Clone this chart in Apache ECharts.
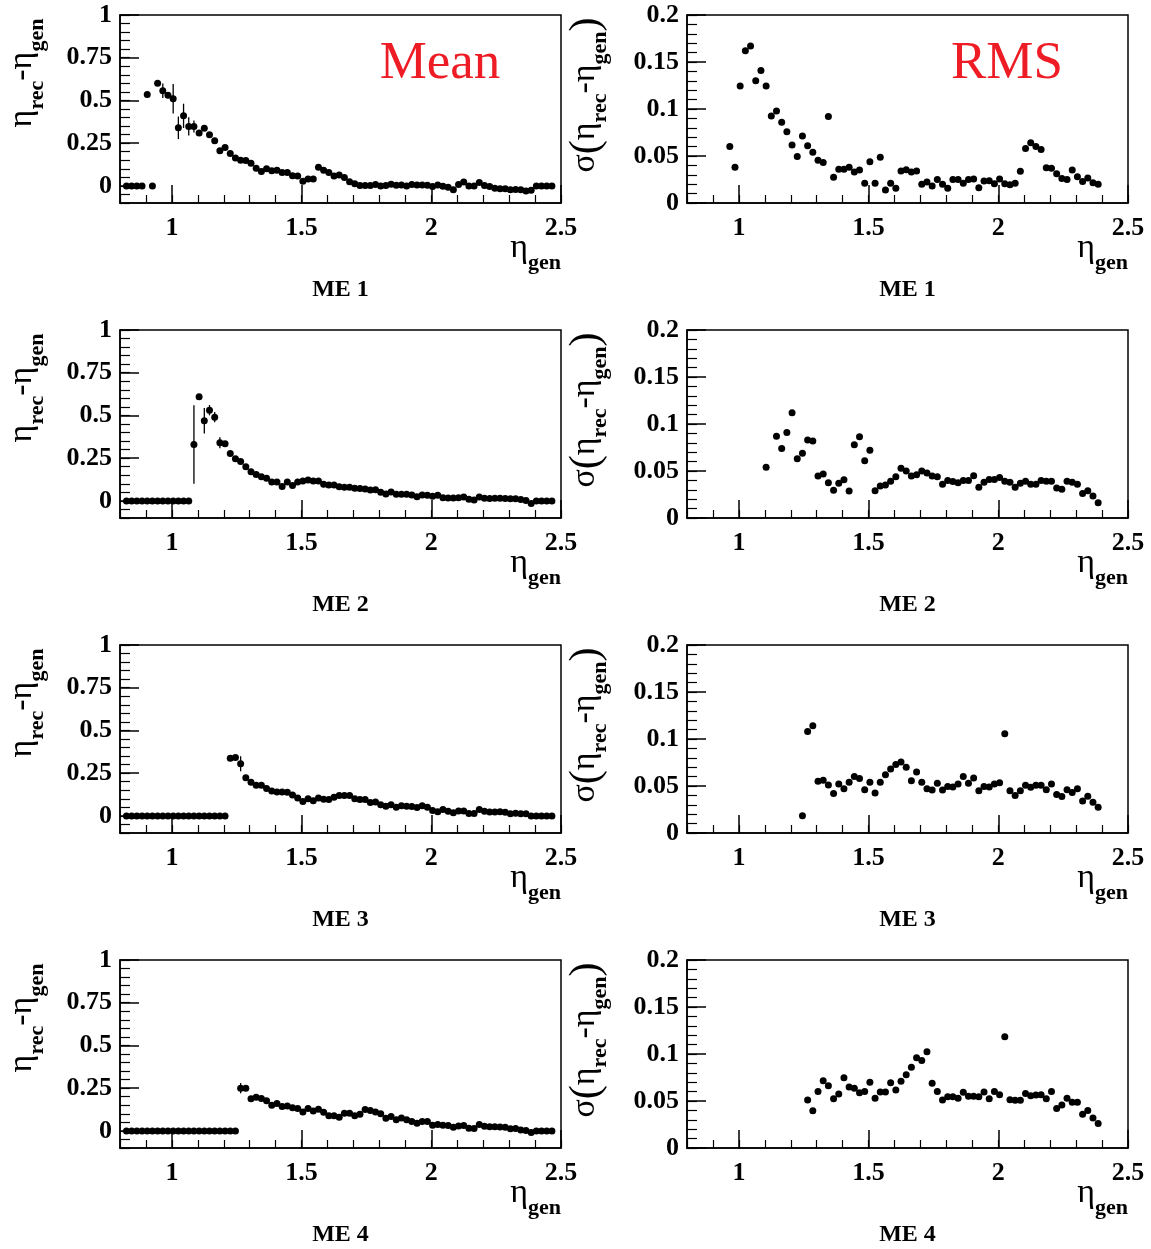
<!DOCTYPE html>
<html>
<head>
<meta charset="utf-8">
<script src="https://cdn.jsdelivr.net/npm/echarts@6/dist/echarts.min.js"></script>
<style>
html,body{margin:0;padding:0;background:#fff;}
#chart{width:1151px;height:1249px;}
</style>
</head>
<body>
<div id="chart"></div>
<script>
// ---------------- DATA ----------------
// eta_gen bin centres
const etaBins = [
  0.825,0.845,0.865,0.885,0.905,0.925,0.945,0.965,0.985,1.005,
  1.025,1.045,1.065,1.085,1.105,1.125,1.145,1.165,1.185,1.205,
  1.225,1.245,1.265,1.285,1.305,1.325,1.345,1.365,1.385,1.405,
  1.425,1.445,1.465,1.485,1.505,1.525,1.545,1.565,1.585,1.605,
  1.625,1.645,1.665,1.685,1.705,1.725,1.745,1.765,1.785,1.805,
  1.825,1.845,1.865,1.885,1.905,1.925,1.945,1.965,1.985,2.005,
  2.025,2.045,2.065,2.085,2.105,2.125,2.145,2.165,2.185,2.205,
  2.225,2.245,2.265,2.285,2.305,2.325,2.345,2.365,2.385,2.405,
  2.425,2.445,2.465
];
const etaTickLabels = [1, 1.5, 2, 2.5];
const meanTickLabels = [0, 0.25, 0.5, 0.75, 1];
const rmsTickLabels = [0, 0.05, 0.1, 0.15, 0.2];
const panelLabels = ['ME 1', 'ME 2', 'ME 3', 'ME 4'];

// Mean of (eta_rec - eta_gen), one value per bin
const meanME1 = [
  0,0,0,0,0.535,0,0.60,0.557,0.53,0.51,
  0.34,0.41,0.348,0.348,0.31,0.338,0.30,0.264,0.205,0.225,
  0.19,0.164,0.15,0.148,0.133,0.103,0.084,0.10,0.088,0.092,
  0.078,0.078,0.06,0.058,0.027,0.041,0.041,0.109,0.092,0.078,
  0.058,0.064,0.049,0.025,0.012,0.002,0.002,0.002,0.008,0,
  0.002,0.01,0.004,0.006,0,0.008,0.006,0.006,0.004,-0.004,
  0.006,-0.002,-0.008,-0.023,0.008,0.023,0,0,0.02,0.002,
  -0.004,-0.014,-0.016,-0.016,-0.023,-0.021,-0.023,-0.03,-0.025,0,
  0,0,0
];
const meanME2 = [
  0,0,0,0,0,0,0,0,0,0,
  0,0,0,0.33,0.61,0.469,0.531,0.49,0.34,0.335,
  0.277,0.246,0.23,0.2,0.17,0.155,0.141,0.132,0.11,0.11,
  0.085,0.11,0.09,0.11,0.116,0.122,0.116,0.116,0.097,0.093,
  0.093,0.083,0.08,0.08,0.074,0.072,0.07,0.064,0.066,0.05,
  0.041,0.052,0.039,0.039,0.039,0.035,0.025,0.035,0.033,0.027,
  0.033,0.019,0.017,0.017,0.019,0.023,0.01,0.006,0.023,0.015,
  0.014,0.015,0.015,0.014,0.012,0.012,0.008,0.002,-0.015,0,
  0,0,0
];
const meanME3 = [
  0,0,0,0,0,0,0,0,0,0,
  0,0,0,0,0,0,0,0,0,0,
  0.338,0.342,0.305,0.223,0.197,0.18,0.18,0.16,0.146,0.14,
  0.14,0.139,0.123,0.105,0.084,0.10,0.088,0.105,0.098,0.096,
  0.109,0.119,0.119,0.119,0.10,0.096,0.096,0.078,0.082,0.066,
  0.057,0.066,0.051,0.06,0.057,0.055,0.049,0.06,0.051,0.031,
  0.025,0.037,0.027,0.018,0.029,0.029,0.014,0.014,0.037,0.027,
  0.023,0.023,0.025,0.021,0.012,0.016,0.012,0.012,0,0,
  0,0,0
];
const meanME4 = [
  0,0,0,0,0,0,0,0,0,0,
  0,0,0,0,0,0,0,0,0,0,
  0,0,0.25,0.25,0.1875,0.197,0.19,0.176,0.15,0.16,
  0.143,0.146,0.135,0.131,0.111,0.131,0.117,0.127,0.109,0.088,
  0.088,0.08,0.104,0.104,0.088,0.098,0.125,0.119,0.111,0.10,
  0.074,0.084,0.066,0.076,0.066,0.055,0.045,0.055,0.055,0.033,
  0.037,0.033,0.031,0.021,0.029,0.031,0.016,0.014,0.037,0.027,
  0.025,0.025,0.023,0.021,0.012,0.014,0.006,0.002,-0.01,0,
  0,0,0
];

// visible error bars on the mean: bin index and half-length
const errBinsME1 = [7, 9, 10, 11, 12, 13];
const errValsME1 = [0.042, 0.086, 0.066, 0.071, 0.053, 0.035];
const errBinsME2 = [13, 15, 16, 17, 18];
const errValsME2 = [0.23, 0.074, 0.03, 0.03, 0.032];
const errBinsME3 = [22];
const errValsME3 = [0.044];
const errBinsME4 = [22];
const errValsME4 = [0.03];

// RMS sigma(eta_rec - eta_gen), null = no point drawn
const rmsME1 = [
  null,null,null,null,null,null,null,0.060,0.038,0.1245,
  0.162,0.167,0.130,0.141,0.1245,0.0926,0.098,0.0858,0.0759,0.0617,
  0.0496,0.0713,0.061,0.054,0.0454,0.043,0.092,0.0273,0.036,0.036,
  0.038,0.033,0.035,0.021,0.044,0.021,0.0486,0.0138,0.021,0.0156,
  0.034,0.0355,0.033,0.034,0.020,0.0223,0.018,0.025,0.020,0.0156,
  0.025,0.025,0.021,0.025,0.0255,0.0163,0.0234,0.0238,0.0206,0.0255,
  0.0206,0.0195,0.021,0.0337,0.058,0.064,0.060,0.057,0.0376,0.037,
  0.031,0.026,0.025,0.035,0.028,0.023,0.0266,0.0216,0.020,null,
  null,null,null
];
const rmsME2 = [
  null,null,null,null,null,null,null,null,null,null,
  null,null,null,null,0.054,null,0.087,0.074,0.091,0.112,
  0.063,0.069,0.083,0.082,0.0447,0.0468,0.0376,0.0294,0.0369,0.0408,
  0.0287,0.078,0.0865,0.061,0.072,0.029,0.034,0.035,0.039,0.044,
  0.053,0.050,0.0447,0.046,0.050,0.048,0.0447,0.044,0.036,0.040,
  0.0387,0.0376,0.040,0.040,0.045,0.0326,0.038,0.041,0.041,0.043,
  0.039,0.038,0.0326,0.0369,0.039,0.036,0.0358,0.040,0.039,0.039,
  0.032,0.0305,0.039,0.038,0.0358,0.026,0.029,0.0234,0.0163,null,
  null,null,null
];
const rmsME3 = [
  null,null,null,null,null,null,null,null,null,null,
  null,null,null,null,null,null,null,null,null,null,
  null,0.0184,0.108,0.114,0.055,0.056,0.051,0.042,0.052,0.047,
  0.054,0.060,0.058,0.046,0.054,0.0426,0.054,0.062,0.068,0.073,
  0.0755,0.070,0.0557,0.065,0.054,0.047,0.0457,0.053,0.0457,0.0496,
  0.049,0.052,0.060,0.053,0.0585,0.045,0.0496,0.049,0.052,0.0535,
  0.1057,0.045,0.040,0.045,0.0507,0.0486,0.0507,0.0507,0.046,0.052,
  0.041,0.0387,0.046,0.043,0.047,0.034,0.039,0.0326,0.0273,null,
  null,null,null
];
const rmsME4 = [
  null,null,null,null,null,null,null,null,null,null,
  null,null,null,null,null,null,null,null,null,null,
  null,null,0.051,0.0397,0.060,0.0716,0.0663,0.0525,0.0574,0.0748,
  0.065,0.0635,0.0589,0.060,0.070,0.053,0.0596,0.0596,0.0695,0.0617,
  0.071,0.078,0.086,0.096,0.093,0.1025,0.0688,0.060,0.051,0.0546,
  0.0546,0.0528,0.0592,0.055,0.055,0.0546,0.0596,0.0525,0.060,0.0567,
  0.1184,0.0514,0.0507,0.0507,0.058,0.0557,0.0564,0.0567,0.0525,0.060,
  0.042,0.0457,0.053,0.0486,0.0486,0.036,0.040,0.032,0.026,null,
  null,null,null
];

// ---------------- LAYOUT / STYLE ----------------
const FONT = '"Liberation Serif", "Times New Roman", serif';
const rowTops = [15, 330, 645, 960];
const GH = 188;
const colLeft = [120, 687];
const colWidth = [441, 441];

const meanRows = [meanME1, meanME2, meanME3, meanME4];
const rmsRows = [rmsME1, rmsME2, rmsME3, rmsME4];
const errBins = [errBinsME1, errBinsME2, errBinsME3, errBinsME4];
const errVals = [errValsME1, errValsME2, errValsME3, errValsME4];

const grids = [], xAxes = [], yAxes = [], series = [], graphic = [];

const tickLabelStyle = {color:'#000', fontFamily:FONT, fontWeight:'bold', fontSize:26};

function addAxes(gi, kind) {
  const isMean = kind === 'mean';
  xAxes.push({
    gridIndex: gi, type: 'value', min: 0.8, max: 2.5, position: 'bottom', offset: 0,
    axisLine: {show: true, onZero: false, lineStyle: {color: '#000', width: 1.5}},
    axisTick: {show: true, inside: true, length: 18, customValues: etaTickLabels, lineStyle: {color: '#000', width: 1.5}},
    axisLabel: Object.assign({show: true, margin: 12, customValues: etaTickLabels, showMinLabel: true, showMaxLabel: true}, tickLabelStyle),
    splitLine: {show: false}
  });
  xAxes.push({
    gridIndex: gi, type: 'value', min: 0.8, max: 2.5, interval: 0.1, position: 'bottom', offset: 0,
    axisLine: {show: false, onZero: false},
    axisTick: {show: true, inside: true, length: 8, lineStyle: {color: '#000', width: 1.2}},
    axisLabel: {show: false}, splitLine: {show: false}
  });
  yAxes.push({
    gridIndex: gi, type: 'value', min: isMean ? -0.1 : 0, max: isMean ? 1 : 0.2, position: 'left', offset: 0,
    axisLine: {show: true, onZero: false, lineStyle: {color: '#000', width: 1.5}},
    axisTick: {show: true, inside: true, length: 19, customValues: isMean ? meanTickLabels : rmsTickLabels, lineStyle: {color: '#000', width: 1.5}},
    axisLabel: Object.assign({show: true, margin: 8, customValues: isMean ? meanTickLabels : rmsTickLabels, showMinLabel: true, showMaxLabel: true}, tickLabelStyle),
    splitLine: {show: false}
  });
  yAxes.push({
    gridIndex: gi, type: 'value', min: isMean ? -0.1 : 0, max: isMean ? 1 : 0.2, interval: isMean ? 0.05 : 0.01, position: 'left', offset: 0,
    axisLine: {show: false, onZero: false},
    axisTick: {show: true, inside: true, length: 10, lineStyle: {color: '#000', width: 1.2}},
    axisLabel: {show: false}, splitLine: {show: false}
  });
}

const richTitle = {
  e: {fontFamily: FONT, fontSize: 34, verticalAlign: 'top', fill: '#000', color: '#000'},
  p: {fontFamily: FONT, fontSize: 42, verticalAlign: 'top', padding: [-3, 0, 0, 0], fill: '#000', color: '#000'},
  s: {fontFamily: FONT, fontSize: 22, fontWeight: 'bold', verticalAlign: 'top', padding: [21, 0, 0, 0], fill: '#000', color: '#000'}
};

for (let r = 0; r < 4; r++) {
  for (let c = 0; c < 2; c++) {
    const gi = r * 2 + c;
    const left = colLeft[c], width = colWidth[c], top = rowTops[r];
    grids.push({left: left, top: top, width: width, height: GH, show: true, borderColor: '#000', borderWidth: 1.5, backgroundColor: 'transparent'});
    addAxes(gi, c === 0 ? 'mean' : 'rms');
    const xi = gi * 2, yi = gi * 2;
    if (c === 0) {
      const vals = meanRows[r];
      const errData = errBins[r].map((b, k) => [etaBins[b], vals[b], errVals[r][k]]);
      series.push({
        type: 'custom', xAxisIndex: xi, yAxisIndex: yi, silent: true, z: 3,
        renderItem: function (params, api) {
          const x = api.value(0), y = api.value(1), e = api.value(2);
          const p1 = api.coord([x, y - e]), p2 = api.coord([x, y + e]);
          return {type: 'line', shape: {x1: p1[0], y1: p1[1], x2: p2[0], y2: p2[1]}, style: {stroke: '#000', lineWidth: 1.3}};
        },
        data: errData
      });
      series.push({
        type: 'scatter', xAxisIndex: xi, yAxisIndex: yi, silent: true, z: 4,
        symbol: 'circle', symbolSize: 7, itemStyle: {color: '#000', opacity: 1},
        data: etaBins.map((x, i) => [x, vals[i]])
      });
    } else {
      const vals = rmsRows[r];
      series.push({
        type: 'scatter', xAxisIndex: xi, yAxisIndex: yi, silent: true, z: 4,
        symbol: 'circle', symbolSize: 7, itemStyle: {color: '#000', opacity: 1},
        data: etaBins.map((x, i) => [x, vals[i]]).filter(d => d[1] !== null)
      });
    }
    // y-axis title
    graphic.push({
      type: 'text', x: c === 0 ? left - 93 : left - 97, y: c === 0 ? top + 58 : top + 80,
      rotation: Math.PI / 2, silent: true,
      style: {
        text: c === 0 ? '{e|η}{s|rec}{e|-η}{s|gen}' : '{e|σ}{p|(}{e|η}{s|rec}{e|-η}{s|gen}{p|)}',
        rich: richTitle, align: 'center', verticalAlign: 'middle', fill: '#000'
      }
    });
    // x-axis title
    graphic.push({
      type: 'text', x: left + width, y: top + 238, silent: true,
      style: {text: '{e|η}{s|gen}', rich: richTitle, align: 'right', verticalAlign: 'middle', fill: '#000'}
    });
    // panel label
    graphic.push({
      type: 'text', x: left + width / 2, y: top + 275, silent: true,
      style: {text: panelLabels[r], fontFamily: FONT, fontWeight: 'bold', fontSize: 24, fill: '#000', align: 'center', verticalAlign: 'middle'}
    });
  }
}

graphic.push({
  type: 'text', x: 440, y: 64, silent: true,
  style: {text: 'Mean', fontFamily: FONT, fontSize: 53, fill: '#ee1c25', align: 'center', verticalAlign: 'middle'}
});
graphic.push({
  type: 'text', x: 1007, y: 64, silent: true,
  style: {text: 'RMS', fontFamily: FONT, fontSize: 53, fill: '#ee1c25', align: 'center', verticalAlign: 'middle'}
});

const chart = echarts.init(document.getElementById('chart'), null, {renderer: 'canvas'});
chart.setOption({
  animation: false,
  backgroundColor: '#fff',
  grid: grids,
  xAxis: xAxes,
  yAxis: yAxes,
  series: series,
  graphic: graphic
});
</script>
</body>
</html>
